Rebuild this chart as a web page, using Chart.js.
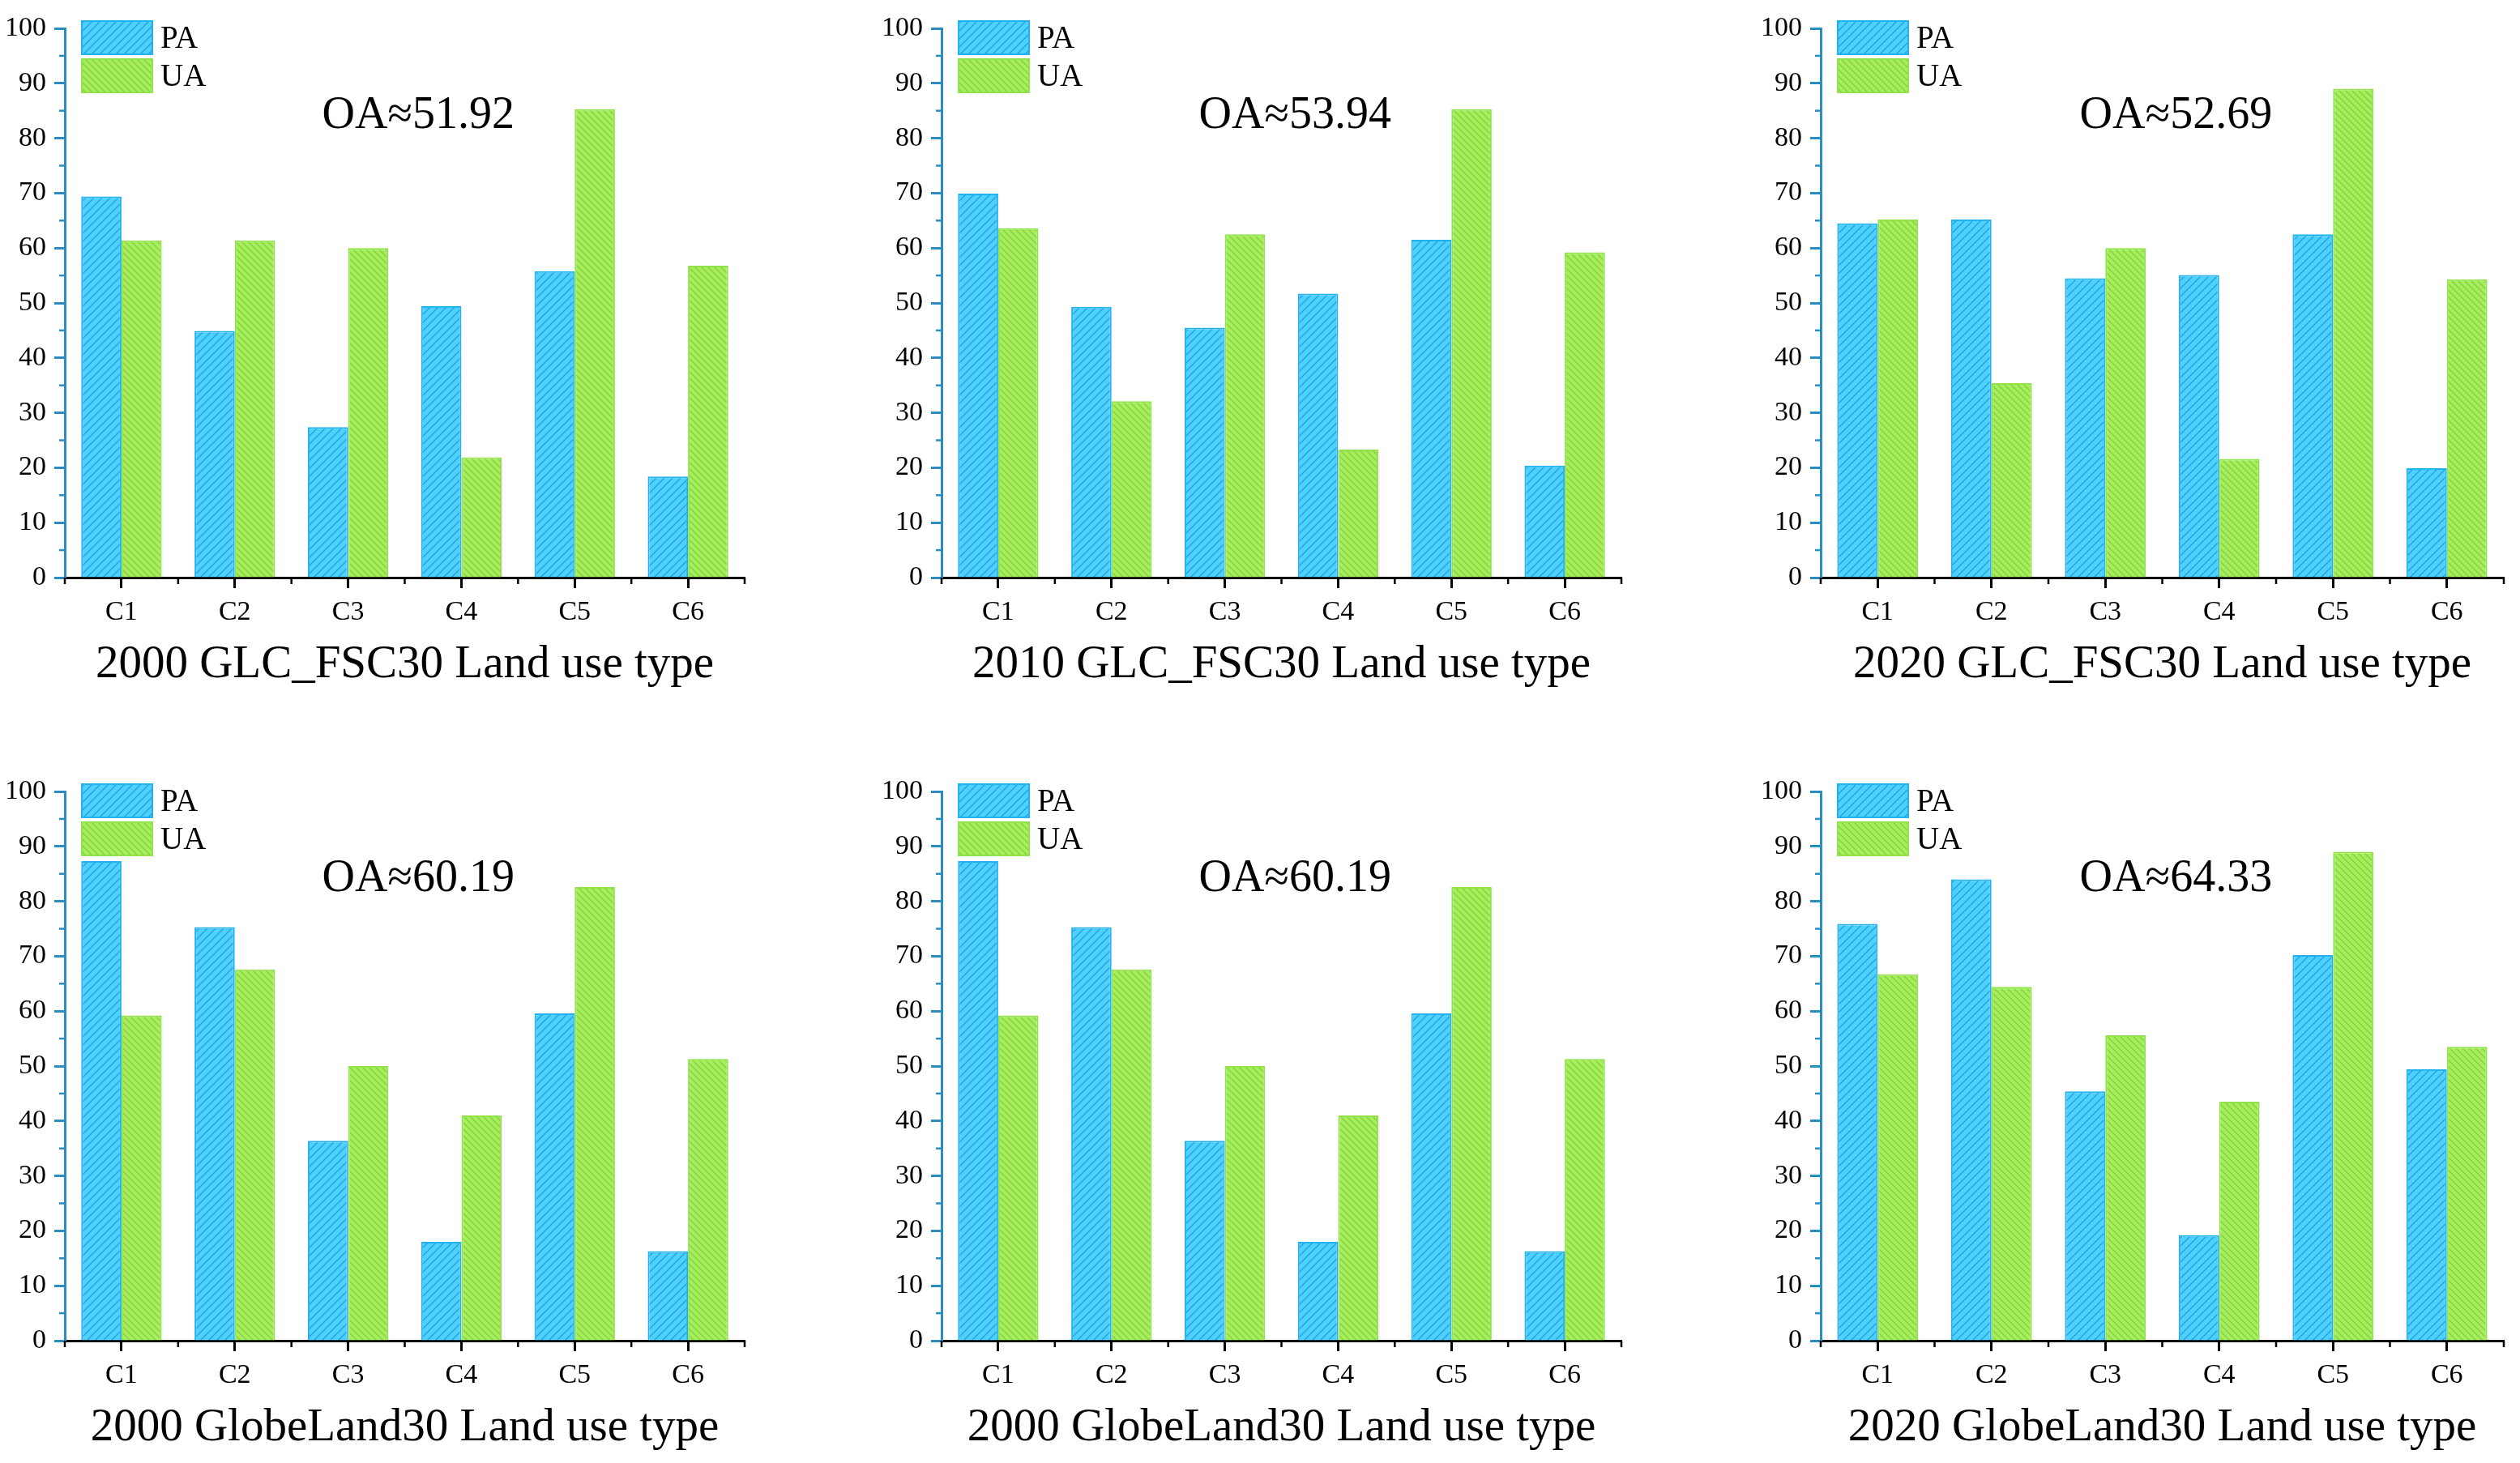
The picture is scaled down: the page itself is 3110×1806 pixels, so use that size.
<!DOCTYPE html>
<html>
<head>
<meta charset="utf-8">
<script src="https://cdn.jsdelivr.net/npm/chart.js@4.4.0/dist/chart.umd.min.js"></script>
<style>
  html, body { margin: 0; padding: 0; background: #fff; }
  body { width: 3110px; height: 1806px; position: relative; overflow: hidden; }
  canvas { position: absolute; }
</style>
</head>
<body>
<canvas id="g1"></canvas>
<canvas id="g2"></canvas>
<canvas id="g3"></canvas>
<canvas id="g4"></canvas>
<canvas id="g5"></canvas>
<canvas id="g6"></canvas>
<script>
const categorias = ['C1', 'C2', 'C3', 'C4', 'C5', 'C6'];
const yTicks = [0, 10, 20, 30, 40, 50, 60, 70, 80, 90, 100];

const titulos = [
  '2000 GLC_FSC30 Land use type',
  '2010 GLC_FSC30 Land use type',
  '2020 GLC_FSC30 Land use type',
  '2000 GlobeLand30 Land use type',
  '2000 GlobeLand30 Land use type',
  '2020 GlobeLand30 Land use type'
];
const oaTextos = ['OA≈51.92', 'OA≈53.94', 'OA≈52.69', 'OA≈60.19', 'OA≈60.19', 'OA≈64.33'];

const paGLC2000 = [69.4, 44.9, 27.4, 49.4, 55.8, 18.4];
const uaGLC2000 = [61.4, 61.4, 60.0, 21.9, 85.3, 56.8];
const paGLC2010 = [69.9, 49.3, 45.5, 51.7, 61.5, 20.4];
const uaGLC2010 = [63.6, 32.1, 62.5, 23.3, 85.3, 59.2];
const paGLC2020 = [64.5, 65.2, 54.5, 55.1, 62.5, 19.9];
const uaGLC2020 = [65.2, 35.4, 60.0, 21.6, 89.0, 54.3];
const paGL2000a = [87.3, 75.3, 36.4, 18.0, 59.6, 16.3];
const uaGL2000a = [59.2, 67.6, 50.0, 41.0, 82.6, 51.3];
const paGL2000b = [87.3, 75.3, 36.4, 18.0, 59.6, 16.3];
const uaGL2000b = [59.2, 67.6, 50.0, 41.0, 82.6, 51.3];
const paGL2020 = [75.9, 84.0, 45.4, 19.2, 70.2, 49.4];
const uaGL2020 = [66.7, 64.4, 55.6, 43.5, 89.0, 53.5];

const seriesPA = [paGLC2000, paGLC2010, paGLC2020, paGL2000a, paGL2000b, paGL2020];
const seriesUA = [uaGLC2000, uaGLC2010, uaGLC2020, uaGL2000a, uaGL2000b, uaGL2020];

// posicion de cada grafico en la pagina
const cajas = [
  { left: 0,    top: 0,   width: 940, padTop: 35 },
  { left: 1082, top: 0,   width: 940, padTop: 35 },
  { left: 2167, top: 0,   width: 938, padTop: 35 },
  { left: 0,    top: 942, width: 940, padTop: 35 },
  { left: 1082, top: 942, width: 940, padTop: 35 },
  { left: 2167, top: 942, width: 938, padTop: 35 }
];
const altoCaja = 864;
const anchoEjeY = 80;
const altoEjeX = 151;
const derecha = [21, 21, 15, 21, 21, 15];

const fuente = "'Liberation Serif', 'Times New Roman', serif";
const ejeAzul = '#2b8dbf';

function rayado(base, linea, s, dir) {
  const c = document.createElement('canvas');
  c.width = s; c.height = s;
  const x = c.getContext('2d');
  x.fillStyle = base;
  x.fillRect(0, 0, s, s);
  x.strokeStyle = linea;
  x.lineWidth = 1.3;
  x.beginPath();
  if (dir === '/') {
    x.moveTo(0, s); x.lineTo(s, 0);
    x.moveTo(-s, s); x.lineTo(s, -s);
    x.moveTo(0, 2 * s); x.lineTo(2 * s, 0);
  } else {
    x.moveTo(0, 0); x.lineTo(s, s);
    x.moveTo(-s, 0); x.lineTo(s, 2 * s);
    x.moveTo(0, -s); x.lineTo(2 * s, s);
  }
  x.stroke();
  return x.createPattern(c, 'repeat');
}

const patronPA = rayado('#4fd1ff', '#1f9fe0', 10, '/');
const patronUA = rayado('#a6ee5c', '#84cf3e', 8, '\\');

const extras = {
  id: 'extras',
  afterDraw(chart, args, opts) {
    const ctx = chart.ctx;
    const xs = chart.scales.x, ys = chart.scales.y;
    const a = chart.chartArea;
    ctx.save();

    // ticks menores eje Y
    ctx.strokeStyle = ejeAzul;
    ctx.lineWidth = 2.5;
    for (let v = 5; v < 100; v += 10) {
      const py = ys.getPixelForValue(v);
      ctx.beginPath();
      ctx.moveTo(a.left - 7, py);
      ctx.lineTo(a.left, py);
      ctx.stroke();
    }

    // ticks menores eje X (limites de categoria)
    ctx.strokeStyle = '#000';
    for (let i = 0; i <= categorias.length; i++) {
      const px = xs.getPixelForValue(i - 0.5);
      ctx.beginPath();
      ctx.moveTo(px, a.bottom);
      ctx.lineTo(px, a.bottom + 8);
      ctx.stroke();
    }

    // leyenda
    chart.data.datasets.forEach((d, k) => {
      const bx = a.left + 21, by = a.top - 9 + k * 47, bw = 87, bh = 41;
      ctx.fillStyle = d.backgroundColor;
      ctx.fillRect(bx, by, bw, bh);
      ctx.strokeStyle = d.borderColor;
      ctx.lineWidth = 2;
      ctx.strokeRect(bx, by, bw, bh);
      ctx.fillStyle = '#000';
      ctx.font = '39px ' + fuente;
      ctx.textAlign = 'left';
      ctx.textBaseline = 'middle';
      ctx.fillText(d.label, bx + bw + 10, by + bh / 2 + 2);
    });

    // OA
    ctx.fillStyle = '#000';
    ctx.font = '56px ' + fuente;
    ctx.textAlign = 'center';
    ctx.textBaseline = 'middle';
    ctx.fillText(opts.texto, xs.getPixelForValue(2.62), ys.getPixelForValue(84));
    ctx.restore();
  }
};

cajas.forEach((caja, i) => {
  const cv = document.getElementById('g' + (i + 1));
  cv.width = caja.width;
  cv.height = altoCaja;
  cv.style.left = caja.left + 'px';
  cv.style.top = caja.top + 'px';

  new Chart(cv, {
    type: 'bar',
    data: {
      labels: categorias,
      datasets: [
        {
          label: 'PA',
          data: seriesPA[i],
          backgroundColor: patronPA,
          borderColor: '#22b2f0',
          borderWidth: 2
        },
        {
          label: 'UA',
          data: seriesUA[i],
          backgroundColor: patronUA,
          borderColor: '#92e24c',
          borderWidth: 2
        }
      ]
    },
    options: {
      responsive: false,
      animation: false,
      devicePixelRatio: 1,
      categoryPercentage: 0.71,
      barPercentage: 1.0,
      layout: { padding: { top: caja.padTop, right: derecha[i], left: 0, bottom: 0 } },
      scales: {
        x: {
          offset: true,
          afterFit: s => { s.height = altoEjeX; },
          border: { display: true, color: '#000', width: 3 },
          grid: { display: true, offset: false, drawOnChartArea: false, drawTicks: true, tickLength: 13, tickColor: '#000', tickWidth: 3 },
          ticks: { color: '#000', font: { family: fuente, size: 34 }, padding: 10, maxRotation: 0 },
          title: { display: true, text: titulos[i], color: '#000', font: { family: fuente, size: 57 }, padding: { top: 0, bottom: 9 } }
        },
        y: {
          min: 0,
          max: 100,
          afterFit: s => { s.width = anchoEjeY; },
          afterBuildTicks: s => { s.ticks = yTicks.map(v => ({ value: v })); },
          border: { display: true, color: ejeAzul, width: 3 },
          grid: { display: true, drawOnChartArea: false, drawTicks: true, tickLength: 13, tickColor: ejeAzul, tickWidth: 3 },
          ticks: { color: '#000', font: { family: fuente, size: 34 }, padding: 10 }
        }
      },
      plugins: {
        legend: { display: false },
        tooltip: { enabled: false },
        extras: { texto: oaTextos[i] }
      }
    },
    plugins: [extras]
  });
});
</script>
</body>
</html>
